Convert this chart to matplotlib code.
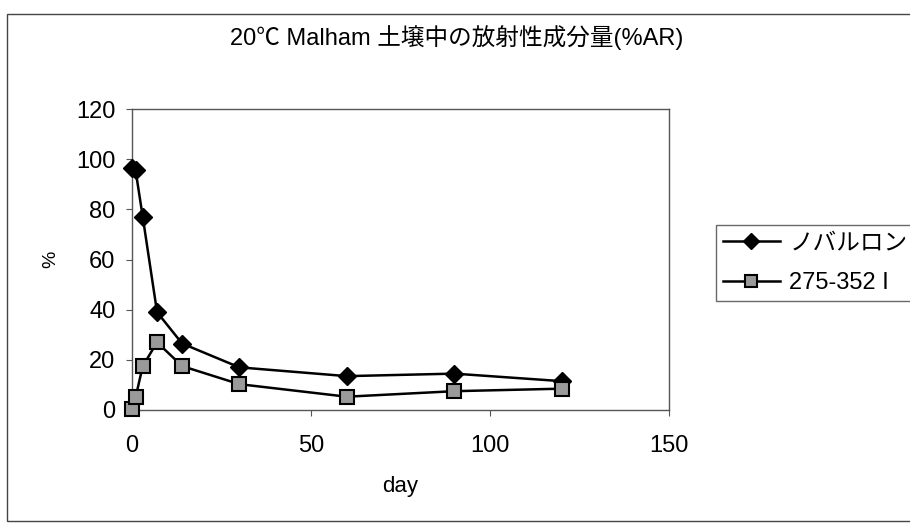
import matplotlib.pyplot as plt
from matplotlib.patches import Rectangle

plt.rcParams['font.family'] = ['Liberation Sans', 'Noto Sans CJK JP', 'DejaVu Sans']

days = [0, 1, 3, 7, 14, 30, 60, 90, 120]
novaluron = [96.5, 95.5, 77, 39, 26.5, 17, 13.5, 14.5, 11.5]
metabolite = [0.5, 5, 17.5, 27, 17.5, 10.3, 5.3, 7.5, 8.5]
series_names = ['ノバルロン', '275-352 I']

x_ticks = [0, 50, 100, 150]
y_ticks = [0, 20, 40, 60, 80, 100, 120]

fig = plt.figure(figsize=(9.1, 5.23), dpi=100)

# outer chart frame
fig.patches.append(Rectangle((7 / 910, 2 / 523), 1.0, 1 - 16 / 523,
                             transform=fig.transFigure, fill=False,
                             edgecolor='#444444', lw=1.0))

ax = fig.add_axes([132 / 910, 1 - 410 / 523, 537 / 910, 301 / 523])

ax.plot(days, novaluron, color='black', lw=1.8, marker='D', markersize=9,
        markerfacecolor='black', markeredgecolor='black', label=series_names[0],
        clip_on=False, zorder=3)
ax.plot(days, metabolite, color='black', lw=1.8, marker='s', markersize=9.5,
        markerfacecolor='#9a9a9a', markeredgecolor='black', markeredgewidth=1.5,
        label=series_names[1], clip_on=False, zorder=3)

ax.set_xlim(0, 150)
ax.set_ylim(0, 120)
ax.set_xticks(x_ticks)
ax.set_yticks(y_ticks)
ax.tick_params(labelsize=17, length=4, width=0.8, color='#555555')
ax.tick_params(axis='x', pad=14)
ax.tick_params(axis='y', pad=8)
for s in ax.spines.values():
    s.set_color('#555555')
    s.set_linewidth(1.0)

ax.set_xlabel('day', fontsize=16, labelpad=14)
ax.set_ylabel('%', fontsize=14, labelpad=12)

fig.text(457 / 910, 1 - 38 / 523, '20℃ Malham 土壌中の放射性成分量(%AR)',
         ha='center', va='center', fontsize=17)

leg = fig.legend(loc='upper left', bbox_to_anchor=(716 / 910, 1 - 225 / 523),
                 fontsize=17, frameon=True, fancybox=False, edgecolor='#444444',
                 handlelength=2.4, handletextpad=0.4, borderpad=0.3,
                 labelspacing=0.75, borderaxespad=0, markerscale=0.85)
leg.get_frame().set_linewidth(1.0)

fig.savefig('out.png', dpi=100)
